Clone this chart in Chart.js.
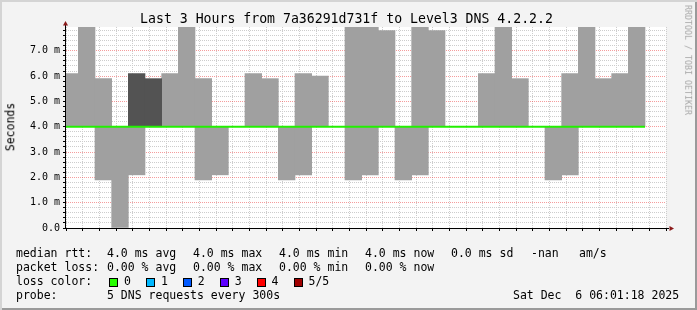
<!DOCTYPE html>
<html>
<head>
<meta charset="utf-8">
<script src="https://cdn.jsdelivr.net/npm/chart.js@4.4.0/dist/chart.umd.min.js"></script>
<style>
  body { margin: 0; background: #fff; }
  #frame {
    position: relative; width: 697px; height: 310px; overflow: hidden;
    background: #f3f3f3;
    box-shadow: inset 2px 2px 0 #d4d4d4, inset -2px -2px 0 #9a9a9a;
    font-family: "DejaVu Sans Mono", monospace; color: #000;
  }
  #chart { position: absolute; left: 0; top: 0; }
  .t { position: absolute; white-space: pre; line-height: 1; font-size: 11.5px; }
  .box { position: absolute; width: 7px; height: 7px; border: 1px solid #000; }
  #title { position: absolute; left: 0; width: 693px; top: 12px; text-align: center; font-size: 13.2px; line-height: 1; white-space: pre; }
  #ylabel { position: absolute; left: 11px; top: 127px; font-size: 11.5px; line-height: 1; transform: translate(-50%, -50%) rotate(-90deg); white-space: pre; }
  #mark { position: absolute; left: 688px; top: 60px; font-size: 8.3px; line-height: 1; color: #a8a8a8; transform: translate(-50%, -50%) rotate(90deg); white-space: pre; }
</style>
</head>
<body>
<div id="frame">
  <canvas id="chart" width="697" height="310"></canvas>
  <div id="title">Last 3 Hours from 7a36291d731f to Level3 DNS 4.2.2.2</div>
  <div id="ylabel">Seconds</div>
  <div id="mark">RRDTOOL / TOBI OETIKER</div>
  <div id="legend"></div>
</div>
<script>
// 5 minute slots (start time), smoke range (min..max of the pings) and median
const slotStart = ['03:00', '03:05', '03:10', '03:15', '03:20', '03:25', '03:30', '03:35', '03:40', '03:45',
                   '03:50', '03:55', '04:00', '04:05', '04:10', '04:15', '04:20', '04:25', '04:30', '04:35',
                   '04:40', '04:45', '04:50', '04:55', '05:00', '05:05', '05:10', '05:15', '05:20', '05:25',
                   '05:30', '05:35', '05:40', '05:45', '05:50'];
const smokeLow  = [4.0, 4.0, 1.9, 0.0, 2.1, null, 4.0, 4.0, 1.9, 2.1,
                   null, 4.0, 4.0, 1.9, 2.1, 4.0, null, 1.9, 2.1, 4.0,
                   1.9, 2.1, 4.0, null, null, 4.0, 4.0, 4.0, null, 1.9,
                   2.1, 4.0, 4.0, 4.0, 4.0];
const smokeHigh = [6.1, 7.94, 5.9, 4.0, 4.0, null, 6.1, 7.94, 5.9, 4.0,
                   null, 6.1, 5.9, 4.0, 6.1, 6.0, null, 7.94, 7.94, 7.8,
                   4.0, 7.94, 7.8, null, null, 6.1, 7.94, 5.9, null, 4.0,
                   6.1, 7.94, 5.9, 6.1, 7.94];
// darker smoke where the pings are packed
const denseLow  = [null, null, null, null, 4.0, 4.0];
const denseHigh = [null, null, null, null, 6.1, 5.9];
const medianRtt = [4.0, 4.0, 4.0, 4.0, 4.0, 4.0, 4.0, 4.0, 4.0, 4.0,
                   4.0, 4.0, 4.0, 4.0, 4.0, 4.0, 4.0, 4.0, 4.0, 4.0,
                   4.0, 4.0, 4.0, 4.0, 4.0, 4.0, 4.0, 4.0, 4.0, 4.0,
                   4.0, 4.0, 4.0, 4.0, 4.0];
const startTime = '03:01:18';
const endTime = '06:01:18';
const yTop = 7.94;

const lossLabels = ['0', '1', '2', '3', '4', '5/5'];
const lossColors = ['#26ff00', '#00b8ff', '#0059ff', '#5e00ff', '#ff0000', '#a00000'];

// minutes since 03:00
function toMin(s) {
    const p = s.split(':').map(Number);
    return (p[0] - 3) * 60 + p[1] + (p[2] || 0) / 60;
}

const smokeData = slotStart.map((s, i) =>
    ({ x: toMin(s) + 2.5, y: smokeLow[i] === null ? null : [smokeLow[i], smokeHigh[i]] }));
const denseData = denseLow.map((v, i) =>
    ({ x: toMin(slotStart[i]) + 2.5, y: v === null ? null : [v, denseHigh[i]] }));
const medianData = slotStart.map((s, i) => ({ x: toMin(s), y: medianRtt[i] }));
medianData.push({ x: toMin(slotStart[slotStart.length - 1]) + 5, y: medianRtt[medianRtt.length - 1] });

const isMajor = (v, step) => Math.abs(v / step - Math.round(v / step)) < 1e-6;

const plotBackground = {
    id: 'plotBackground',
    beforeDraw(chart) {
        const { ctx, chartArea: a } = chart;
        ctx.save();
        ctx.fillStyle = '#ffffff';
        ctx.fillRect(a.left, a.top, a.right - a.left, a.bottom - a.top);
        ctx.restore();
    }
};

const axisArrows = {
    id: 'axisArrows',
    afterDraw(chart) {
        const { ctx, chartArea: a } = chart;
        ctx.save();
        ctx.strokeStyle = '#000';
        ctx.lineWidth = 1;
        ctx.beginPath();
        ctx.moveTo(a.left - 0.5, a.bottom + 1);
        ctx.lineTo(a.left - 0.5, a.top - 4);
        ctx.moveTo(a.left - 3, a.bottom + 0.5);
        ctx.lineTo(a.right + 3, a.bottom + 0.5);
        ctx.stroke();
        ctx.fillStyle = '#8b1a1a';
        ctx.beginPath();
        ctx.moveTo(a.left - 0.5, a.top - 6);
        ctx.lineTo(a.left - 3, a.top - 1.5);
        ctx.lineTo(a.left + 2, a.top - 1.5);
        ctx.closePath();
        ctx.fill();
        ctx.beginPath();
        ctx.moveTo(a.right + 8, a.bottom + 0.5);
        ctx.lineTo(a.right + 3.5, a.bottom - 2);
        ctx.lineTo(a.right + 3.5, a.bottom + 3);
        ctx.closePath();
        ctx.fill();
        ctx.restore();
    }
};

new Chart(document.getElementById('chart'), {
    type: 'bar',
    data: {
        datasets: [
            {
                type: 'line', data: medianData, borderColor: '#22f000', borderWidth: 2,
                pointRadius: 0, stepped: 'after', order: 0
            },
            {
                data: denseData, backgroundColor: '#535353', borderWidth: 0,
                grouped: false, barPercentage: 1, categoryPercentage: 1, order: 1
            },
            {
                data: smokeData, backgroundColor: '#a0a0a0', borderWidth: 0,
                grouped: false, barPercentage: 1, categoryPercentage: 1, order: 2
            }
        ]
    },
    options: {
        responsive: false,
        animation: false,
        layout: { padding: { left: 0, right: 31, top: 27, bottom: 62 } },
        plugins: { legend: { display: false }, tooltip: { enabled: false } },
        scales: {
            x: {
                type: 'linear',
                offset: false,
                min: toMin(startTime),
                max: toMin(endTime),
                afterFit: (s) => { s.height = 20; },
                grid: {
                    offset: false,
                    color: (c) => isMajor(c.tick.value, 20) ? 'rgba(235,60,60,0.5)' : '#cdcdcd',
                    tickColor: '#000',
                    tickLength: 3
                },
                border: { display: false, dash: [1, 1] },
                ticks: {
                    stepSize: 5,
                    includeBounds: false,
                    autoSkip: false,
                    maxRotation: 0,
                    padding: 2,
                    color: '#000',
                    font: { family: 'DejaVu Sans Mono', size: 10 },
                    callback: (v) => {
                        if (!isMajor(v, 20)) return '';
                        const m = Math.round(v) + 180;
                        return String(Math.floor(m / 60)).padStart(2, '0') + ':' + String(m % 60).padStart(2, '0');
                    }
                }
            },
            y: {
                min: 0,
                max: yTop,
                afterFit: (s) => { s.width = 66; },
                grid: {
                    color: (c) => isMajor(c.tick.value, 1) ? 'rgba(235,60,60,0.5)' : '#cdcdcd',
                    tickColor: '#000',
                    tickLength: 3
                },
                border: { display: false, dash: [1, 1] },
                ticks: {
                    stepSize: 0.2,
                    includeBounds: false,
                    autoSkip: false,
                    padding: 3,
                    color: '#000',
                    font: { family: 'DejaVu Sans Mono', size: 10 },
                    callback: (v) => {
                        if (!isMajor(v, 1)) return '';
                        return v === 0 ? '0.0' : v.toFixed(1) + ' m';
                    }
                }
            }
        }
    },
    plugins: [plotBackground, axisArrows]
});

// legend lines under the graph
const legend = document.getElementById('legend');
function put(text, x, y) {
    const d = document.createElement('div');
    d.className = 't';
    d.style.left = x + 'px';
    d.style.top = y + 'px';
    d.textContent = text;
    legend.appendChild(d);
}
put('median rtt:', 16, 248);
put('4.0 ms avg', 107, 248);
put('4.0 ms max', 193, 248);
put('4.0 ms min', 279, 248);
put('4.0 ms now', 365, 248);
put('0.0 ms sd', 451, 248);
put('-nan', 531, 248);
put('am/s', 579, 248);
put('packet loss:', 16, 262);
put('0.00 % avg', 107, 262);
put('0.00 % max', 193, 262);
put('0.00 % min', 279, 262);
put('0.00 % now', 365, 262);
put('loss color:', 16, 276);
lossLabels.forEach((lab, i) => {
    const b = document.createElement('div');
    b.className = 'box';
    b.style.left = (109 + i * 36.9) + 'px';
    b.style.top = '278px';
    b.style.background = lossColors[i];
    legend.appendChild(b);
    put(lab, 124 + i * 36.9, 276);
});
put('probe:', 16, 290);
put('5 DNS requests every 300s', 107, 290);
put('Sat Dec  6 06:01:18 2025', 513, 290);
</script>
</body>
</html>
